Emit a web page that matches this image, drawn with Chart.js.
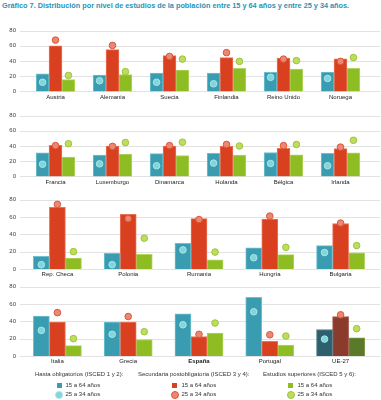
<!DOCTYPE html>
<html><head><meta charset="utf-8">
<script src="https://cdn.jsdelivr.net/npm/chart.js@4"></script>
<style>
html,body{margin:0;padding:0;background:#fff;width:381px;height:400px;overflow:hidden;font-family:"Liberation Sans",Arial,sans-serif;}
canvas{position:absolute;left:0;}
#title{position:absolute;left:2px;top:1px;font-size:7.3px;font-weight:bold;color:#2a93b6;white-space:nowrap;}
.lg{position:absolute;font-size:6px;color:#333;white-space:nowrap;}
.sq{position:absolute;width:5px;height:5px;}
.ci{position:absolute;width:6px;height:6px;border-radius:50%;border:1px solid;}
</style></head><body>
<div id="title">Gráfico 7. Distribución por nivel de estudios de la población entre 15 y 64 años y entre 25 y 34 años.</div>
<canvas id="c1" width="381" height="90"></canvas>
<canvas id="c2" width="381" height="90"></canvas>
<canvas id="c3" width="381" height="91"></canvas>
<canvas id="c4" width="381" height="91"></canvas>

<div class="lg" style="left:35px;top:371px;">Hasta obligatorios (ISCED 1 y 2):</div>
<div class="sq" style="left:57px;top:382.5px;background:#3a9cb1;"></div>
<div class="lg" style="left:65.5px;top:382px;">15 a 64 años</div>
<div class="ci" style="left:55px;top:390.5px;background:#80d6db;border-color:#a9e5e8;"></div>
<div class="lg" style="left:65.5px;top:391px;">25 a 34 años</div>

<div class="lg" style="left:138px;top:371px;">Secundaria postobligatoria (ISCED 3 y 4):</div>
<div class="sq" style="left:172px;top:382.5px;background:#d8401f;"></div>
<div class="lg" style="left:181.5px;top:382px;">15 a 64 años</div>
<div class="ci" style="left:171px;top:390.5px;background:#ea8873;border-color:#de5538;"></div>
<div class="lg" style="left:181.5px;top:391px;">25 a 34 años</div>

<div class="lg" style="left:263px;top:371px;">Estudios superiores (ISCED 5 y 6):</div>
<div class="sq" style="left:288px;top:382.5px;background:#8dbd22;"></div>
<div class="lg" style="left:297.5px;top:382px;">15 a 64 años</div>
<div class="ci" style="left:287px;top:390.5px;background:#bedc5e;border-color:#9cc43a;"></div>
<div class="lg" style="left:297.5px;top:391px;">25 a 34 años</div>

<script>
// ---- data ----
const yTicks = [0,10,20,30,40,50,60,70,80];

const cats1 = ['Austria','Alemania','Suecia','Finlandia','Reino Unido','Noruega'];
const hasta15_1 = [23, 21.5, 24, 24, 25, 25.5];
const secund15_1 = [60, 55, 47, 44.5, 44, 43];
const superior15_1 = [15.5, 22, 28, 30.5, 29.5, 30.5];
const hasta25_1 = [12, 14, 12, 10, 18.5, 17];
const secund25_1 = [67.5, 60.5, 46, 51, 42.5, 39.5];
const superior25_1 = [21, 26, 42.5, 39.5, 40.5, 44.5];

const cats2 = ['Francia','Luxemburgo','Dinamarca','Holanda','Bélgica','Irlanda'];
const hasta15_2 = [31, 28, 30, 30.5, 31.5, 30.5];
const secund15_2 = [41, 40, 40, 39.5, 37, 36.5];
const superior15_2 = [25.5, 29.5, 27.5, 28, 28.5, 31];
const hasta25_2 = [16, 16.5, 14, 17.5, 17, 14];
const secund25_2 = [40.5, 39.5, 40.5, 42, 40.5, 38.5];
const superior25_2 = [43, 44.5, 45, 40, 42, 47.5];

const cats3 = ['Rep. Checa','Polonia','Rumania','Hungría','Bulgaria'];
const hasta15_3 = [14.5, 18, 29.5, 24.5, 27];
const secund15_3 = [71, 63, 58, 57.5, 52.5];
const superior15_3 = [12.5, 17, 10.5, 16.5, 18.5];
const hasta25_3 = [5, 5, 22, 13, 19];
const secund25_3 = [74.5, 58, 57, 61, 53];
const superior25_3 = [20, 35.5, 19.5, 25, 27];

const cats4 = ['Italia','Grecia','España','Portugal','UE-27'];
const hasta15_4 = [46, 39, 48.5, 67.5, 30.5];
const secund15_4 = [39, 39, 22.5, 17, 45.5];
const superior15_4 = [12, 19, 26.5, 12.5, 21];
const hasta25_4 = [29.5, 25, 36, 51, 19.5];
const secund25_4 = [50, 45.5, 25, 24.5, 47.5];
const superior25_4 = [20, 28, 38, 23, 31.5];

// ---- styles ----
const barCol = ['#3a9cb1','#d8401f','#8dbd22'];
const barColDark = ['#2e5f6d','#8b3b2b','#5b7a29'];
const barBorder = ['#72c0cf','#ea7358','#b3d660'];
const barBorderDark = ['#4f7a86','#a4594a','#7a9547'];
const dotFill = ['#80d6db','#ea8873','#bedc5e'];
const dotBorder = ['#a9e5e8','#de5538','#9cc43a'];
const catPct = 0.68;

const panels = [
  {id:'c1', top:16, area:72, left:27, right:369, cats:cats1, bars:[hasta15_1,secund15_1,superior15_1], dots:[hasta25_1,secund25_1,superior25_1]},
  {id:'c2', top:101, area:72.5, left:27, right:369, cats:cats2, bars:[hasta15_2,secund15_2,superior15_2], dots:[hasta25_2,secund25_2,superior25_2]},
  {id:'c3', top:190, area:73, left:22, right:376, cats:cats3, bars:[hasta15_3,secund15_3,superior15_3], dots:[hasta25_3,secund25_3,superior25_3]},
  {id:'c4', top:277, area:73, left:22, right:376, cats:cats4, bars:[hasta15_4,secund15_4,superior15_4], dots:[hasta25_4,secund25_4,superior25_4]},
];

const gridPlugin = {
  id:'fullGrid',
  beforeDatasetsDraw(chart){
    const ctx = chart.ctx, y = chart.scales.y;
    ctx.save();
    ctx.strokeStyle = '#e2e2e2';
    ctx.lineWidth = 1;
    y.ticks.forEach(t => {
      const py = Math.round(y.getPixelForValue(t.value)) + 0.5;
      ctx.beginPath(); ctx.moveTo(20, py); ctx.lineTo(380, py); ctx.stroke();
    });
    ctx.restore();
  }
};

const PADTOP = 6;
panels.forEach(p => {
  const cv = document.getElementById(p.id);
  cv.style.top = p.top + 'px';
  const n = p.cats.length;
  const thick = (p.right - p.left) / n * catPct / 3;
  const slot = k => (k-1)*catPct/3;   // offset of series k within a category
  const datasets = [];
  p.dots.forEach((vals, k) => {
    datasets.push({
      type:'line', xAxisID:'xp', order:0, showLine:false,
      data: vals.map((v,i) => ({x: i + slot(k), y: v})),
      pointRadius:3.3, pointBorderWidth:1,
      pointBackgroundColor: dotFill[k], pointBorderColor: dotBorder[k]
    });
  });
  p.bars.forEach((vals, k) => {
    datasets.push({
      type:'bar', xAxisID:'xp', order:1, grouped:false,
      data: vals.map((v,i) => ({x: i + slot(k), y: v})),
      backgroundColor: p.cats.map(c => c==='UE-27' ? barColDark[k] : barCol[k]),
      borderColor: p.cats.map(c => c==='UE-27' ? barBorderDark[k] : barBorder[k]),
      borderWidth:1, barThickness: thick
    });
  });
  new Chart(cv, {
    data:{labels:p.cats, datasets},
    options:{
      responsive:false, animation:false, devicePixelRatio:1,
      layout:{padding:{top:PADTOP, left:0, right:381-p.right, bottom:0}},
      plugins:{legend:{display:false}, tooltip:{enabled:false}},
      scales:{
        x:{type:'category', offset:true, labels:p.cats,
           grid:{display:false, drawTicks:false}, border:{display:false},
           ticks:{padding:2, color:'#222', maxRotation:0, autoSkip:false,
             font: c => ({family:'"Liberation Sans", Arial, sans-serif', size:6,
               weight: p.cats[c.index]==='España' ? 'bold' : 'normal'})},
           afterFit: s => { s.height = cv.height - PADTOP - p.area; }},
        xp:{type:'linear', min:-0.5, max:n-0.5, display:false, offset:false},
        y:{min:0, max:80, afterBuildTicks: s => { s.ticks = yTicks.map(v => ({value:v})); },
           grid:{display:false, drawTicks:false}, border:{display:false},
           ticks:{padding:p.left-16, color:'#444', font:{family:'"Liberation Sans", Arial, sans-serif', size:6}},
           afterFit: s => { s.width = p.left; }}
      }
    },
    plugins:[gridPlugin]
  });
});
</script>
</body></html>
